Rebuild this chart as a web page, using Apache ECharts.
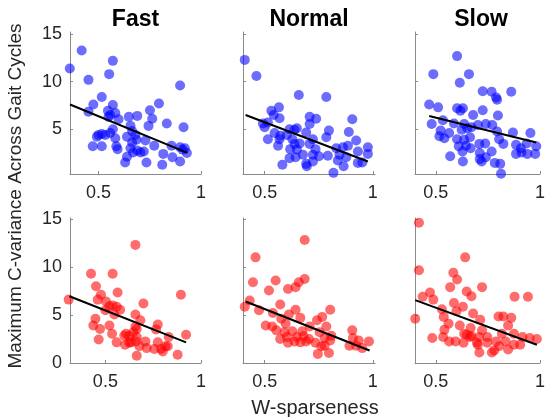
<!DOCTYPE html>
<html>
<head>
<meta charset="utf-8">
<script src="https://cdn.jsdelivr.net/npm/echarts@6/dist/echarts.min.js"></script>
<style>
  html, body { margin: 0; padding: 0; background: #fff; }
  #chart { width: 548px; height: 417px; }
</style>
</head>
<body>
<div id="chart"></div>
<script>
// panel titles and tick values
var speeds = ['Fast', 'Normal', 'Slow'];
var xTicks = [0.5, 1];
var yTicksTop = [5, 10, 15];
var yTicksBottom = [0, 5, 10, 15];

// top row (blue), [W-sparseness, max C-variance]
var fastTop = [
  [0.36,11.4],[0.418,13.3],[0.451,10.2],[0.552,10.8],[0.570,12.2],[0.898,9.6],
  [0.516,8.4],[0.475,7.6],[0.570,7.55],[0.451,6.85],[0.546,6.95],[0.557,6.5],
  [0.582,6.7],[0.549,6.3],[0.598,6.05],[0.648,6.3],[0.689,6.4],[0.795,7.7],
  [0.751,7.0],[0.762,6.1],[0.833,5.6],[0.915,5.2],[0.744,5.35],[0.656,5.35],
  [0.570,5.0],[0.664,4.8],[0.639,4.2],[0.680,4.4],[0.5,4.4],[0.516,4.5],
  [0.533,4.4],[0.557,4.6],[0.492,4.2],[0.582,4.05],[0.472,3.2],[0.516,3.2],
  [0.587,3.2],[0.593,2.9],[0.664,3.6],[0.685,3.9],[0.729,3.8],[0.772,3.25],
  [0.656,3.0],[0.689,2.75],[0.705,2.55],[0.669,2.55],[0.639,2.1],[0.630,1.5],
  [0.734,1.5],[0.811,1.25],[0.816,2.4],[0.861,2.05],[0.856,3.25],[0.898,3.1],
  [0.910,2.85],[0.931,2.5],[0.898,1.6],[0.921,3.0],[0.721,2.65]
];
var normalTop = [
  [0.408,12.3],[0.462,10.6],[0.658,8.6],[0.785,8.4],[0.566,7.3],[0.531,6.95],
  [0.542,6.5],[0.569,6.15],[0.708,6.3],[0.738,6.1],[0.905,6.05],[0.492,5.6],
  [0.515,5.7],[0.5,5.2],[0.708,5.55],[0.615,5.0],[0.638,4.95],[0.649,5.1],
  [0.692,4.65],[0.797,4.85],[0.889,4.7],[0.546,4.6],[0.572,4.3],[0.603,4.4],
  [0.785,4.15],[0.515,3.95],[0.569,3.95],[0.628,3.95],[0.723,3.95],[0.923,3.8],
  [0.662,3.5],[0.708,3.45],[0.562,3.25],[0.638,3.45],[0.618,2.9],[0.649,2.85],
  [0.735,2.9],[0.831,3.0],[0.862,3.1],[0.885,3.25],[0.977,3.1],[0.931,2.65],
  [0.977,2.4],[0.677,2.3],[0.723,2.3],[0.751,2.15],[0.792,2.2],[0.846,2.3],
  [0.615,1.95],[0.643,2.05],[0.877,2.05],[0.838,1.7],[0.582,1.25],[0.692,1.35],
  [0.695,1.1],[0.865,1.1],[0.931,1.45],[0.951,1.5],[0.818,0.4],[0.723,1.6]
];
var slowTop = [
  [0.602,12.7],[0.488,10.8],[0.659,10.8],[0.615,9.9],[0.725,9.0],[0.768,8.95],
  [0.789,8.35],[0.794,8.1],[0.862,8.95],[0.468,7.6],[0.511,7.3],[0.602,7.2],
  [0.630,7.2],[0.618,6.95],[0.679,6.5],[0.725,7.0],[0.798,6.45],[0.534,5.95],
  [0.480,5.55],[0.587,5.6],[0.636,5.55],[0.702,5.45],[0.740,5.55],[0.771,5.45],
  [0.651,5.1],[0.624,4.95],[0.671,5.2],[0.523,4.85],[0.564,4.6],[0.794,4.75],
  [0.870,4.65],[0.954,4.6],[0.517,4.25],[0.541,4.05],[0.602,3.95],[0.636,3.9],
  [0.664,4.15],[0.804,3.95],[0.709,3.45],[0.737,3.5],[0.824,3.45],[0.885,3.35],
  [0.936,3.5],[0.610,3.2],[0.645,3.25],[0.667,3.0],[0.908,3.0],[0.982,3.2],
  [0.628,2.65],[0.711,2.5],[0.768,2.65],[0.885,2.4],[0.911,2.55],[0.939,2.4],
  [0.977,2.4],[0.569,2.15],[0.711,1.85],[0.740,2.05],[0.630,1.6],[0.720,1.6],
  [0.783,1.45],[0.809,1.35],[0.813,0.3]
];

// bottom row (red)
var fastBottom = [
  [0.308,6.6],[0.657,12.3],[0.425,9.3],[0.538,9.3],[0.451,8.0],[0.477,7.1],
  [0.564,7.35],[0.895,7.1],[0.460,6.6],[0.503,6.4],[0.699,6.2],[0.521,5.9],
  [0.538,6.0],[0.559,5.85],[0.577,5.55],[0.5,5.5],[0.547,5.05],[0.657,5.05],
  [0.448,4.6],[0.683,4.45],[0.437,3.9],[0.521,3.9],[0.657,3.8],[0.774,4.0],
  [0.472,3.55],[0.664,3.55],[0.765,3.5],[0.535,3.05],[0.608,3.05],[0.646,3.2],
  [0.831,2.7],[0.922,2.95],[0.599,2.85],[0.625,2.8],[0.664,2.7],[0.465,2.45],
  [0.559,2.15],[0.603,1.9],[0.634,2.15],[0.660,2.25],[0.709,2.25],[0.774,2.15],
  [0.814,1.75],[0.678,1.75],[0.716,1.55],[0.756,1.45],[0.791,1.45],[0.800,1.2],
  [0.878,0.85],[0.664,0.75],[0.826,1.75],[0.625,2.1]
];
var normalBottom = [
  [0.685,12.8],[0.458,11.0],[0.446,8.4],[0.551,8.6],[0.520,7.55],[0.608,7.7],
  [0.643,7.9],[0.658,8.4],[0.685,8.75],[0.431,6.5],[0.408,5.85],[0.474,5.5],
  [0.572,6.1],[0.538,5.2],[0.643,5.55],[0.612,5.05],[0.803,5.55],[0.577,4.6],
  [0.665,4.7],[0.766,4.8],[0.742,4.45],[0.505,3.9],[0.535,3.8],[0.597,4.1],
  [0.708,3.8],[0.785,3.8],[0.554,3.4],[0.592,3.2],[0.628,3.3],[0.674,3.3],
  [0.754,3.2],[0.905,3.4],[0.572,2.5],[0.603,2.7],[0.649,2.7],[0.680,2.8],
  [0.705,2.5],[0.808,2.85],[0.803,2.35],[0.908,2.6],[0.935,2.35],[0.982,2.25],
  [0.608,2.1],[0.665,2.15],[0.692,2.25],[0.735,2.1],[0.777,1.8],[0.892,1.8],
  [0.923,1.8],[0.951,1.55],[0.762,1.75],[0.797,1.05],[0.746,0.95],[0.638,2.25],
  [0.777,2.6]
];
var slowBottom = [
  [0.419,14.6],[0.419,9.65],[0.641,11.0],[0.584,9.4],[0.602,8.7],[0.569,7.9],
  [0.722,7.9],[0.648,7.45],[0.472,7.35],[0.437,6.9],[0.488,6.6],[0.671,6.95],
  [0.878,6.9],[0.942,6.9],[0.587,6.25],[0.630,5.85],[0.529,5.6],[0.599,5.4],
  [0.679,5.15],[0.538,4.8],[0.801,4.85],[0.824,4.85],[0.862,4.7],[0.401,4.6],
  [0.713,4.5],[0.561,4.1],[0.847,3.9],[0.615,3.9],[0.667,3.65],[0.722,3.4],
  [0.541,3.45],[0.648,2.95],[0.671,2.8],[0.817,3.05],[0.875,3.05],[0.483,2.6],
  [0.535,2.7],[0.636,3.05],[0.709,2.7],[0.747,2.7],[0.916,2.7],[0.951,2.6],
  [0.985,2.5],[0.564,2.25],[0.595,2.25],[0.633,2.1],[0.697,2.1],[0.789,2.25],
  [0.835,2.25],[0.905,1.9],[0.875,1.9],[0.747,2.1],[0.702,1.9],[0.804,1.75],
  [0.847,1.4],[0.780,1.3],[0.769,1.1],[0.709,1.1],[0.664,2.7]
];

// least-squares lines as drawn (end points)
var fitFastTop = [[0.361,7.6],[0.934,2.5]];
var fitNormalTop = [[0.412,6.5],[0.977,1.6]];
var fitSlowTop = [[0.468,6.4],[0.982,3.6]];
var fitFastBottom = [[0.312,6.95],[0.922,2.15]];
var fitNormalBottom = [[0.412,6.4],[0.985,1.3]];
var fitSlowBottom = [[0.401,6.55],[0.985,1.9]];

var FONT = 'Liberation Sans, Arial, sans-serif';
var axisGray = '#8a8a8a';
var textGray = '#262626';
var blue = 'rgba(0,0,255,0.72)';
var red = 'rgba(255,0,0,0.72)';

var panels = [
  {pts: fastTop, fit: fitFastTop, color: blue, x: [0.361, 1.0], y: [0.28, 15.24], yTicks: yTicksTop},
  {pts: normalTop, fit: fitNormalTop, color: blue, x: [0.4, 1.01], y: [0.28, 15.24], yTicks: yTicksTop},
  {pts: slowTop, fit: fitSlowTop, color: blue, x: [0.4, 1.0], y: [0.28, 15.24], yTicks: yTicksTop},
  {pts: fastBottom, fit: fitFastBottom, color: red, x: [0.315, 1.0], y: [0, 15.1], yTicks: yTicksBottom},
  {pts: normalBottom, fit: fitNormalBottom, color: red, x: [0.4, 1.01], y: [0, 15.1], yTicks: yTicksBottom},
  {pts: slowBottom, fit: fitSlowBottom, color: red, x: [0.4, 1.0], y: [0, 15.1], yTicks: yTicksBottom}
];

var colLeft = [70, 243, 415];
var colWidth = [131, 132, 132];
var rowTop = [32, 218];
var rowHeight = [142, 145];

var grids = [], xAxes = [], yAxes = [], series = [];
panels.forEach(function (p, i) {
  var col = i % 3, row = Math.floor(i / 3);
  grids.push({left: colLeft[col], top: rowTop[row], width: colWidth[col], height: rowHeight[row]});
  xAxes.push({
    gridIndex: i, type: 'value', min: p.x[0], max: p.x[1],
    axisLine: {lineStyle: {color: axisGray, width: 1}},
    axisTick: {inside: true, length: 3, customValues: xTicks, lineStyle: {color: axisGray}},
    axisLabel: {customValues: xTicks, fontSize: 18, fontFamily: FONT, color: textGray, margin: 10},
    splitLine: {show: false}
  });
  yAxes.push({
    gridIndex: i, type: 'value', min: p.y[0], max: p.y[1],
    axisLine: {show: true, lineStyle: {color: axisGray, width: 1}},
    axisTick: {show: true, inside: true, length: 3, customValues: p.yTicks, lineStyle: {color: axisGray}},
    axisLabel: {show: col === 0, customValues: p.yTicks, fontSize: 18, fontFamily: FONT, color: textGray, margin: 8},
    splitLine: {show: false}
  });
  series.push({
    type: 'scatter', xAxisIndex: i, yAxisIndex: i, data: p.pts,
    symbolSize: 10, clip: false,
    itemStyle: {color: p.color}
  });
  series.push({
    type: 'line', xAxisIndex: i, yAxisIndex: i, data: p.fit,
    symbol: 'none', z: 5,
    lineStyle: {color: '#000', width: 2}
  });
});

var titleGraphics = speeds.map(function (s, c) {
  return {
    type: 'text', x: colLeft[c] + colWidth[c] / 2, y: 20,
    style: {text: s, font: 'bold 23px ' + FONT, fill: '#000', textAlign: 'center', textVerticalAlign: 'middle'}
  };
});

var myChart = echarts.init(document.getElementById('chart'), null, {renderer: 'canvas'});
myChart.setOption({
  animation: false,
  backgroundColor: '#fff',
  grid: grids,
  xAxis: xAxes,
  yAxis: yAxes,
  series: series,
  graphic: titleGraphics.concat([
    {
      type: 'text', x: 315, y: 408,
      style: {text: 'W-sparseness', font: '20px ' + FONT, fill: textGray, textAlign: 'center', textVerticalAlign: 'middle'}
    },
    {
      type: 'text', x: 16, y: 196, rotation: Math.PI / 2,
      style: {text: 'Maximum C-variance Across Gait Cycles', font: '19px ' + FONT, fill: textGray, textAlign: 'center', textVerticalAlign: 'middle'}
    }
  ])
});
</script>
</body>
</html>
